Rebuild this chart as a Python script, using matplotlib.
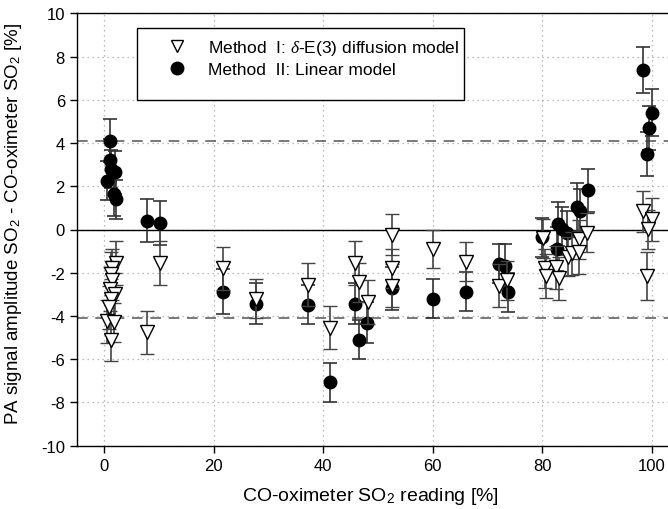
import matplotlib
matplotlib.use("Agg")
import matplotlib.pyplot as plt
from matplotlib.lines import Line2D
from matplotlib.patches import Rectangle

plt.rcParams['font.family'] = ['Liberation Sans', 'DejaVu Sans']
plt.rcParams['mathtext.fontset'] = 'custom'
plt.rcParams['mathtext.rm'] = 'Liberation Sans'
plt.rcParams['mathtext.it'] = 'Liberation Serif:italic'
plt.rcParams['axes.unicode_minus'] = False

# Method I: delta-E(3) diffusion model (open triangles)
m1_x = [2.1, 1.5, 1.2, 1.4, 1.0, 2.0, 1.2, 0.9, 0.6, 1.8, 1.2,
        7.9, 10.3, 21.7, 27.8, 37.2, 41.2, 45.8, 46.6, 48.2,
        52.6, 52.6, 52.6, 60.0, 66.1, 72.1, 73.5,
        80.1, 80.6, 80.8, 82.6, 83.1, 84.7, 85.5, 86.8, 86.7, 88.2,
        98.4, 100.0, 99.4, 99.2]
m1_y = [-1.55, -1.8, -2.05, -2.35, -2.75, -3.0, -3.2, -3.6, -4.25, -4.3, -5.1,
        -4.75, -1.55, -1.8, -3.2, -2.55, -4.55, -1.55, -2.45, -3.35,
        -0.25, -1.8, -2.6, -0.9, -1.5, -2.6, -2.35,
        -0.4, -1.8, -2.15, -1.75, -2.25, -1.25, -1.1, -0.45, -1.05, -0.15,
        0.85, 0.48, 0.02, -2.15]
m1_err = [1.0, 0.9, 1.0, 0.9, 1.0, 1.0, 0.9, 1.0, 1.0, 0.9, 1.0,
          1.0, 1.0, 1.0, 0.9, 1.0, 1.0, 1.0, 0.9, 1.0,
          0.95, 0.9, 1.0, 0.9, 0.9, 1.0, 0.9,
          0.9, 0.9, 1.0, 1.0, 1.0, 0.9, 1.0, 0.9, 1.0, 0.9,
          0.95, 1.0, 0.9, 1.1]

# Method II: linear model (filled circles)
m2_x = [1.05, 1.0, 1.35, 1.95, 0.55, 1.8, 2.1,
        7.9, 10.3, 21.7, 27.8, 37.2, 41.2, 45.8, 46.6, 48.1,
        52.6, 60.0, 66.1, 72.1, 73.2, 73.7,
        80.0, 82.7, 82.9, 83.7, 84.5, 86.4, 86.9, 88.3,
        98.4, 100.0, 99.5, 99.2]
m2_y = [4.1, 3.2, 2.8, 2.65, 2.25, 1.62, 1.4,
        0.41, 0.3, -2.87, -3.44, -3.49, -7.06, -3.44, -5.09, -4.32,
        -2.72, -3.21, -2.87, -1.59, -1.67, -2.9,
        -0.35, -0.9, 0.25, 0.02, -0.16, 1.05, 0.87, 1.82,
        7.37, 5.41, 4.69, 3.49]
m2_err = [1.0, 1.0, 0.9, 1.0, 0.9, 1.0, 0.9,
          1.0, 1.0, 1.05, 0.95, 0.9, 0.9, 0.95, 0.9, 0.95,
          1.0, 0.9, 0.9, 0.9, 1.0, 0.9,
          0.9, 1.0, 1.0, 1.0, 1.0, 1.1, 1.0, 1.0,
          1.05, 1.1, 1.0, 1.0]

limit_lines = [4.1, -4.1]

W, H = 668, 510
fig = plt.figure(figsize=(W / 100, H / 100), dpi=100)
# axes runs a bit past the right edge of the picture (right spine cut off)
ax = fig.add_axes([76.7 / W, 1 - 446.7 / H, (679 - 76.7) / W, (446.7 - 14.3) / H])

ax.grid(True, color='#a8a8a8', linestyle=(0, (1, 3)), linewidth=0.9)
ax.set_axisbelow(True)
ax.axhline(0, color='black', linewidth=1.0, zorder=1)
for yl in limit_lines:
    ax.axhline(yl, color='#555555', linewidth=1.1, linestyle=(0, (7, 5)), zorder=1)

ax.errorbar(m2_x, m2_y, yerr=m2_err, fmt='o', color='black', ms=9,
            ecolor='#333333', elinewidth=1.2, capsize=5, capthick=1.2, zorder=2)
ax.errorbar(m1_x, m1_y, yerr=m1_err, fmt='v', mfc='white', mec='black', mew=1.0, ms=10.5,
            ecolor='#444444', elinewidth=1.2, capsize=5, capthick=1.2, zorder=3)

ax.set_xlim(-5, 105)
ax.set_ylim(-10, 10)
ax.set_xticks([0, 20, 40, 60, 80, 100])
ax.set_yticks(range(-10, 11, 2))
ax.tick_params(direction='out', length=5, width=1, labelsize=12, colors='black')
ax.spines['right'].set_visible(False)
for s in ['left', 'bottom', 'top']:
    ax.spines[s].set_linewidth(1.0)

ax.set_xlabel('CO-oximeter SO$_2$ reading [%]', fontsize=14)
ax.set_ylabel('PA signal amplitude SO$_2$ - CO-oximeter SO$_2$ [%]', fontsize=13.5)
ax.xaxis.set_label_coords((370 - 76.7) / (679 - 76.7), -0.092)
ax.yaxis.set_label_coords(-0.088, 0.515)

# legend frame drawn by hand, entries placed inside it
fig.patches.append(Rectangle((137 / W, 1 - 101 / H), (464 - 137) / W, (101 - 29) / H,
                             transform=fig.transFigure, facecolor='white',
                             edgecolor='black', linewidth=1.0, zorder=5))
handles = [
    Line2D([], [], linestyle='none', marker='v', mfc='white', mec='black', ms=9),
    Line2D([], [], linestyle='none', marker='o', color='black', ms=9),
]
labels = ['Method  I: $\\delta$-E(3) diffusion model', 'Method  II: Linear model']
leg = fig.legend(handles, labels, loc='upper left', bbox_to_anchor=(160 / W, 1 - 39 / H),
                 fontsize=12.5, frameon=False, borderpad=0, borderaxespad=0,
                 handlelength=1.95, handletextpad=0.8, labelspacing=0.3)
leg.set_zorder(6)

fig.savefig('out.png', dpi=100)
